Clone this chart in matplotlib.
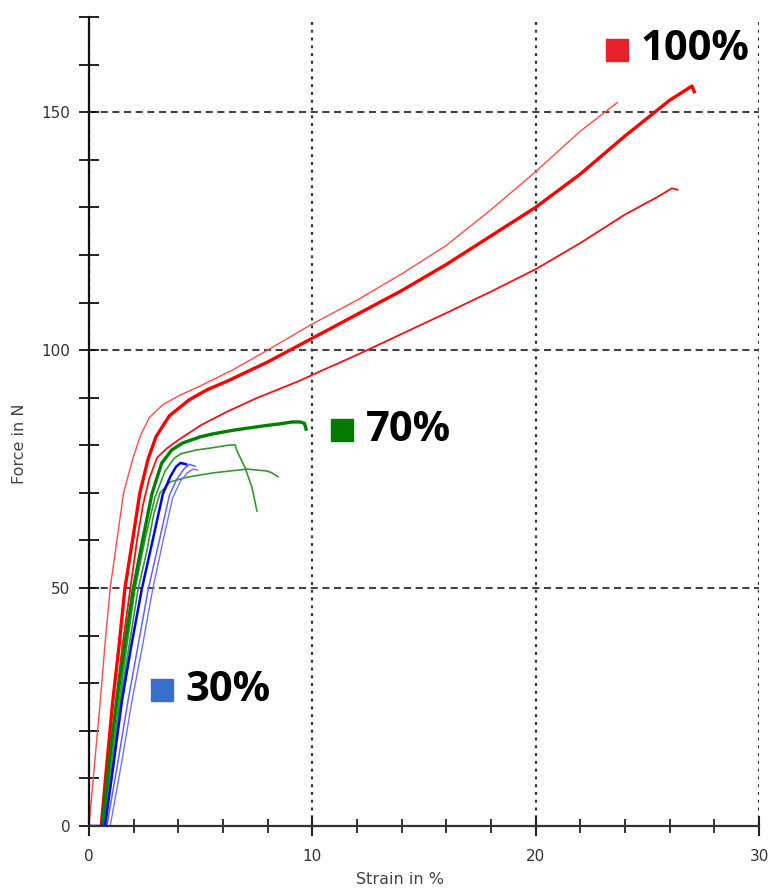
import matplotlib
matplotlib.use("Agg")
import matplotlib.pyplot as plt
from matplotlib.ticker import MultipleLocator

# --- 100 % fibre content (red) ---
red_a_x = [0.0, 0.25, 0.5, 0.75, 0.95, 1.25, 1.55, 1.95, 2.3, 2.7, 3.3, 4.1, 5.0, 6.5, 8.0,
           10.0, 12.0, 14.0, 16.0, 18.0, 20.0, 22.0, 23.65]
red_a_y = [0, 13, 26, 40, 50, 60, 70, 77, 82, 85.8, 88.5, 90.6, 92.5, 96, 100,
           105.5, 110.5, 116, 122, 129.5, 137.5, 146, 152]

red_b_x = [0.55, 0.8, 1.07, 1.35, 1.61, 1.95, 2.28, 2.64, 3.0, 3.6, 4.5, 5.3, 6.2, 8.0,
           10.0, 12.0, 14.0, 16.0, 18.0, 20.0, 22.0, 24.0, 26.0, 27.0, 27.1]
red_b_y = [0, 13, 26.4, 38, 50, 60, 70, 77, 81.8, 86.2, 89.6, 91.7, 93.5, 97.5,
           102.5, 107.5, 112.5, 118, 124, 130, 137, 145, 152.5, 155.5, 154.3]

red_c_x = [0.6, 0.9, 1.2, 1.5, 1.84, 2.15, 2.42, 2.7, 3.05, 3.5, 4.0, 5.0, 6.2, 7.5, 9.45,
           10.0, 12.0, 14.0, 16.0, 18.0, 20.0, 22.0, 24.0, 25.5, 26.1, 26.35]
red_c_y = [0, 13, 26, 38, 49.5, 60, 67.5, 73, 77.4, 79.4, 81.1, 84.2, 87.1, 89.9, 93.6,
           94.8, 99.0, 103.4, 107.8, 112.3, 117, 122.5, 128.5, 132.3, 134, 133.7]

# --- 70 % (green) ---
green_a_x = [0.6, 0.9, 1.25, 1.6, 1.97, 2.4, 2.82, 3.25, 3.7, 4.2, 5.0, 5.55, 6.5, 7.1,
             8.0, 8.55, 9.1, 9.45, 9.65, 9.72]
green_a_y = [0, 13, 26.4, 38, 49.5, 60, 69.8, 76.2, 79, 80.5, 81.8, 82.4, 83.2, 83.6,
             84.2, 84.5, 84.9, 84.9, 84.6, 83.4]

green_b_x = [0.65, 1.0, 1.35, 1.7, 2.05, 2.5, 2.95, 3.4, 3.8, 4.1, 4.8, 5.55, 6.2, 6.54,
             6.63, 6.99, 7.3, 7.52]
green_b_y = [0, 13, 26, 38, 49.5, 60, 69, 74.5, 77.2, 78.2, 79.0, 79.5, 80.0, 80.1,
             78.8, 75.3, 71.1, 66.2]

green_c_x = [0.7, 1.05, 1.4, 1.8, 2.19, 2.6, 2.9, 3.18, 3.63, 4.39, 5.55, 7.08, 7.97,
             8.2, 8.46]
green_c_y = [0, 13, 26, 38, 49.5, 58, 65.5, 70.0, 72.3, 73.3, 74.2, 75.0, 74.6, 74.2, 73.4]

# --- 30 % (blue) ---
blue_a_x = [0.0, 0.72, 1.1, 1.48, 1.9, 2.37, 2.85, 3.31, 3.65, 3.9, 4.1, 4.35]
blue_a_y = [0, 0, 13, 26.4, 38, 49.9, 60, 69.8, 73.5, 75.5, 76.3, 76.0]

blue_b_x = [0.8, 1.28, 1.75, 2.2, 2.66, 3.15, 3.6, 3.95, 4.25, 4.5, 4.75]
blue_b_y = [0, 13, 26.4, 38, 49.9, 60, 69.5, 73, 75, 76.0, 75.6]

blue_c_x = [0.95, 1.45, 1.93, 2.4, 2.86, 3.32, 3.75, 4.1, 4.4, 4.65, 4.85]
blue_c_y = [0, 13, 26.4, 38, 49.9, 60, 69, 72.5, 74.2, 75.0, 74.8]

labels = ["100%", "70%", "30%"]
label_colors = ["#e8222a", "#007a00", "#3a6fc9"]

################################################################################

fig = plt.figure(figsize=(7.69, 8.9), dpi=100)
ax = fig.add_axes([0.1157, 0.0719, 0.8713, 0.909])

ax.plot(red_a_x, red_a_y, color="#ff4a4a", lw=1.0)
ax.plot(red_c_x, red_c_y, color="#f51010", lw=1.3)
ax.plot(red_b_x, red_b_y, color="#ff0000", lw=2.4)

ax.plot(green_c_x, green_c_y, color="#2f9a2f", lw=1.2)
ax.plot(green_b_x, green_b_y, color="#2f9a2f", lw=1.2)
ax.plot(green_a_x, green_a_y, color="#008000", lw=2.4)

ax.plot(blue_c_x, blue_c_y, color="#7070ff", lw=1.0)
ax.plot(blue_b_x, blue_b_y, color="#6060ff", lw=1.1)
ax.plot(blue_a_x, blue_a_y, color="#0000ff", lw=1.8)

# group labels: coloured square + bold percentage
spots = [(23.65, 163.1), (11.33, 83.2), (3.27, 28.5)]
for (sx, sy), txt, col in zip(spots, labels, label_colors):
    ax.plot(sx, sy, "s", ms=15.5, color=col, mec=col)
    ax.text(sx + 1.05, sy, txt, fontsize=30, fontweight="bold", family="Open Sans",
            color="black", va="center", ha="left")

ax.set_xlim(0, 30)
ax.set_ylim(0, 170)
ax.xaxis.set_major_locator(MultipleLocator(10))
ax.xaxis.set_minor_locator(MultipleLocator(2))
ax.yaxis.set_major_locator(MultipleLocator(50))
ax.yaxis.set_minor_locator(MultipleLocator(10))

for s in ["top", "right"]:
    ax.spines[s].set_visible(False)
ax.spines["left"].set_linewidth(1.6)
ax.spines["bottom"].set_linewidth(1.6)
ax.spines["left"].set_color("#111111")
ax.spines["bottom"].set_color("#333333")

ax.tick_params(axis="x", which="major", direction="inout", length=15, width=1.5,
               pad=9, labelsize=11, labelcolor="#333333", color="#222222")
ax.tick_params(axis="x", which="minor", direction="inout", length=10, width=1.3,
               color="#222222")
ax.tick_params(axis="y", which="both", direction="inout", length=15, width=1.3,
               pad=6, labelsize=11, labelcolor="#333333", color="#111111")

for v in [0, 10, 20, 30]:
    ax.axvline(v, color="#333333", lw=1.6, ls=(0, (1.3, 2.2)), zorder=0.5)
for v in [50, 100, 150]:
    ax.axhline(v, color="#444444", lw=1.5, ls=(0, (3.4, 2.2)), zorder=0.5)

ax.set_xlabel("Strain in %", fontsize=11.5, color="#444444")
ax.set_ylabel("Force in N", fontsize=11.5, color="#444444")
ax.xaxis.set_label_coords(0.464, -0.057)
ax.yaxis.set_label_coords(-0.093, 0.473)

plt.savefig("out.png", dpi=100)
plt.close()
